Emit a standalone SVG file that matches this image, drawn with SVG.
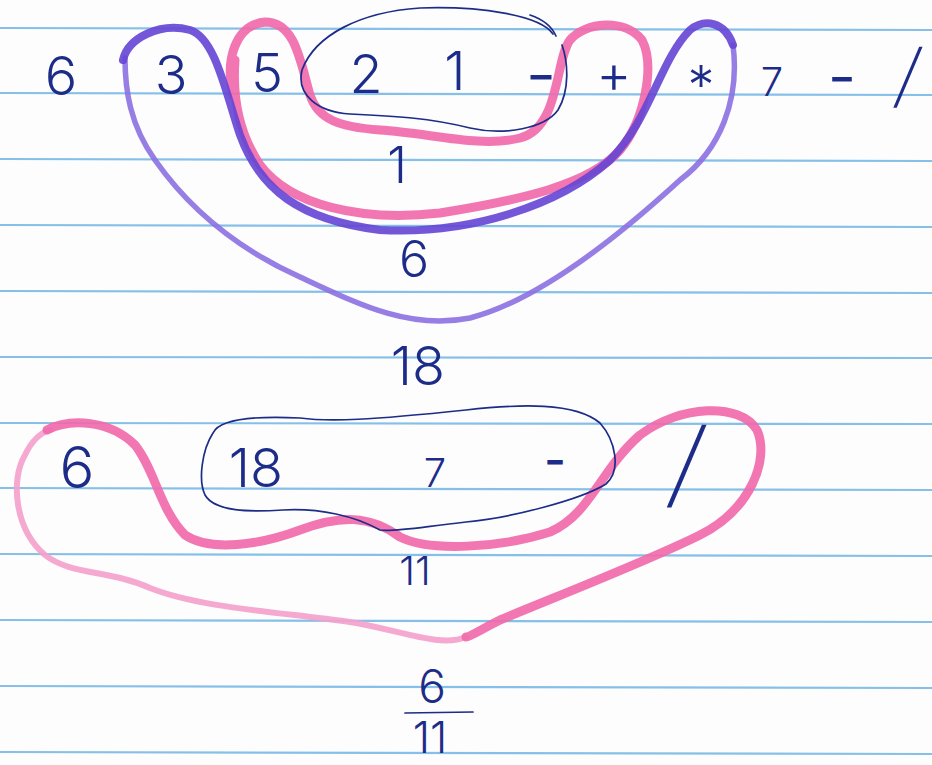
<svg xmlns="http://www.w3.org/2000/svg" width="932" height="765" viewBox="0 0 932 765">
<style>
.rule{stroke:#86c0e8;stroke-width:2.2;fill:none}
.ink{font-family:Inter,"Liberation Sans","DejaVu Sans",sans-serif;font-weight:300;fill:#1c2c88;text-anchor:middle}
.dash{font-weight:500}
.pen{stroke:#1c2c88;stroke-width:1.7;fill:none;stroke-linecap:round}
.pink{stroke:#f06aaa;stroke-width:9;fill:none;stroke-linecap:round;stroke-linejoin:round;opacity:.92}
.pinkL{stroke:#f4a0cc;stroke-width:6;fill:none;stroke-linecap:round;opacity:.9}
.purp{stroke:#6545d4;stroke-width:8;fill:none;stroke-linecap:round;opacity:.9}
.purpL{stroke:#8c70e2;stroke-width:5.5;fill:none;stroke-linecap:round;opacity:.9}
</style>
<rect width="932" height="765" fill="#fdfdfd"/>
<g id="paper">
<path class="rule" d="M0,28 L932,30"/>
<path class="rule" d="M0,93 L932,95"/>
<path class="rule" d="M0,159 L932,161"/>
<path class="rule" d="M0,225 L932,227"/>
<path class="rule" d="M0,291 L932,293"/>
<path class="rule" d="M0,357 L932,358"/>
<path class="rule" d="M0,423 L932,424"/>
<path class="rule" d="M0,488 L932,490"/>
<path class="rule" d="M0,554 L932,556"/>
<path class="rule" d="M0,620 L932,622"/>
<path class="rule" d="M0,686 L932,688"/>
<path class="rule" d="M0,752 L932,754"/>
</g>
<g id="loops">
<path class="purpL" d="M733,45 C740,100 720,150 680,180 C620,235 540,300 470,318 C410,330 360,305 300,277 C240,250 190,210 155,160 C130,125 125,90 125,58"/>
<path class="pink" d="M233,95 C225,60 235,25 265,22 C295,22 300,60 310,95 C318,120 340,127 380,130 C430,133 480,148 520,138 C560,128 555,60 570,40 C585,22 625,18 642,40 C655,65 645,120 620,150 C590,185 520,200 440,213 C360,222 290,205 260,165 C240,135 232,100 235,60"/>
<path class="purp" d="M123,60 C128,38 160,22 190,30 C215,38 225,90 240,135 C260,190 300,220 380,230 C470,235 560,205 610,160 C650,120 660,60 690,30 C705,18 725,22 733,45"/>
<path class="pen" d="M553,34 C540,15 480,6 420,8 C360,12 315,35 302,70 C296,95 318,112 350,114 C395,116 430,118 470,128 C505,136 545,128 558,110 C570,90 568,62 562,45"/>
<path class="pen" d="M530,15 C545,20 552,27 556,36"/>
<path class="pinkL" d="M466,637 C440,648 400,630 350,622 C280,612 200,608 150,588 C110,570 70,575 45,555 C15,530 10,480 25,455 C32,440 40,433 50,430"/>
<path class="pink" d="M47,430 C70,418 110,420 135,445 C155,470 160,510 185,535 C210,552 260,545 300,530 C340,515 370,515 400,537 C430,552 500,548 550,532 C590,515 600,470 640,435 C680,405 740,402 757,430 C770,460 750,510 700,535 C650,560 560,595 500,620 C480,630 470,637 466,637"/>
<path class="pen" d="M213,433 C220,418 260,416 300,418 C330,422 370,420 466,410 C520,404 575,402 600,423 C615,440 622,470 606,484 C580,500 510,518 466,522 C420,527 395,532 380,530 C355,516 320,508 283,510 C250,512 215,512 205,495 C198,480 202,450 213,433"/>
</g>
<g id="top-row">
<text class="ink" x="61" y="95" font-size="54">6</text>
<text class="ink" x="171" y="94" font-size="54">3</text>
<text class="ink" x="267" y="92" font-size="54">5</text>
<text class="ink" x="366" y="93" font-size="54">2</text>
<text class="ink" x="455" y="90" font-size="54">1</text>
<text class="ink dash" x="541" y="92" font-size="48" textLength="30" lengthAdjust="spacingAndGlyphs">-</text>
<text class="ink" x="614" y="93" font-size="54">+</text>
<text class="ink" x="701" y="104" font-size="54">*</text>
<text class="ink" x="772" y="96" font-size="40">7</text>
<text class="ink dash" x="842" y="94" font-size="48" textLength="28" lengthAdjust="spacingAndGlyphs">-</text>
<text class="ink" font-size="50" transform="translate(903,100) skewX(-12) scale(1.1,1.4)">/</text>
</g>
<g id="results-top">
<text class="ink" x="397" y="183" font-size="50">1</text>
<text class="ink" x="414" y="277" font-size="50">6</text>
<text class="ink" x="418" y="385" font-size="54">18</text>
</g>
<g id="bottom-row">
<text class="ink" x="77" y="488" font-size="58">6</text>
<text class="ink" x="256" y="487" font-size="54">18</text>
<text class="ink" x="435" y="487" font-size="40">7</text>
<text class="ink dash" x="555" y="477" font-size="48" textLength="22" lengthAdjust="spacingAndGlyphs">-</text>
<text class="ink" font-size="50" transform="translate(680,497) skewX(-12) scale(1.5,1.9)">/</text>
<text class="ink" x="415" y="585" font-size="40">11</text>
</g>
<g id="fraction">
<text class="ink" x="432" y="703" font-size="46">6</text>
<path class="pen" d="M405,713 L473,712" stroke-width="2.2"/>
<text class="ink" x="430" y="753" font-size="44">11</text>
</g>
</svg>
